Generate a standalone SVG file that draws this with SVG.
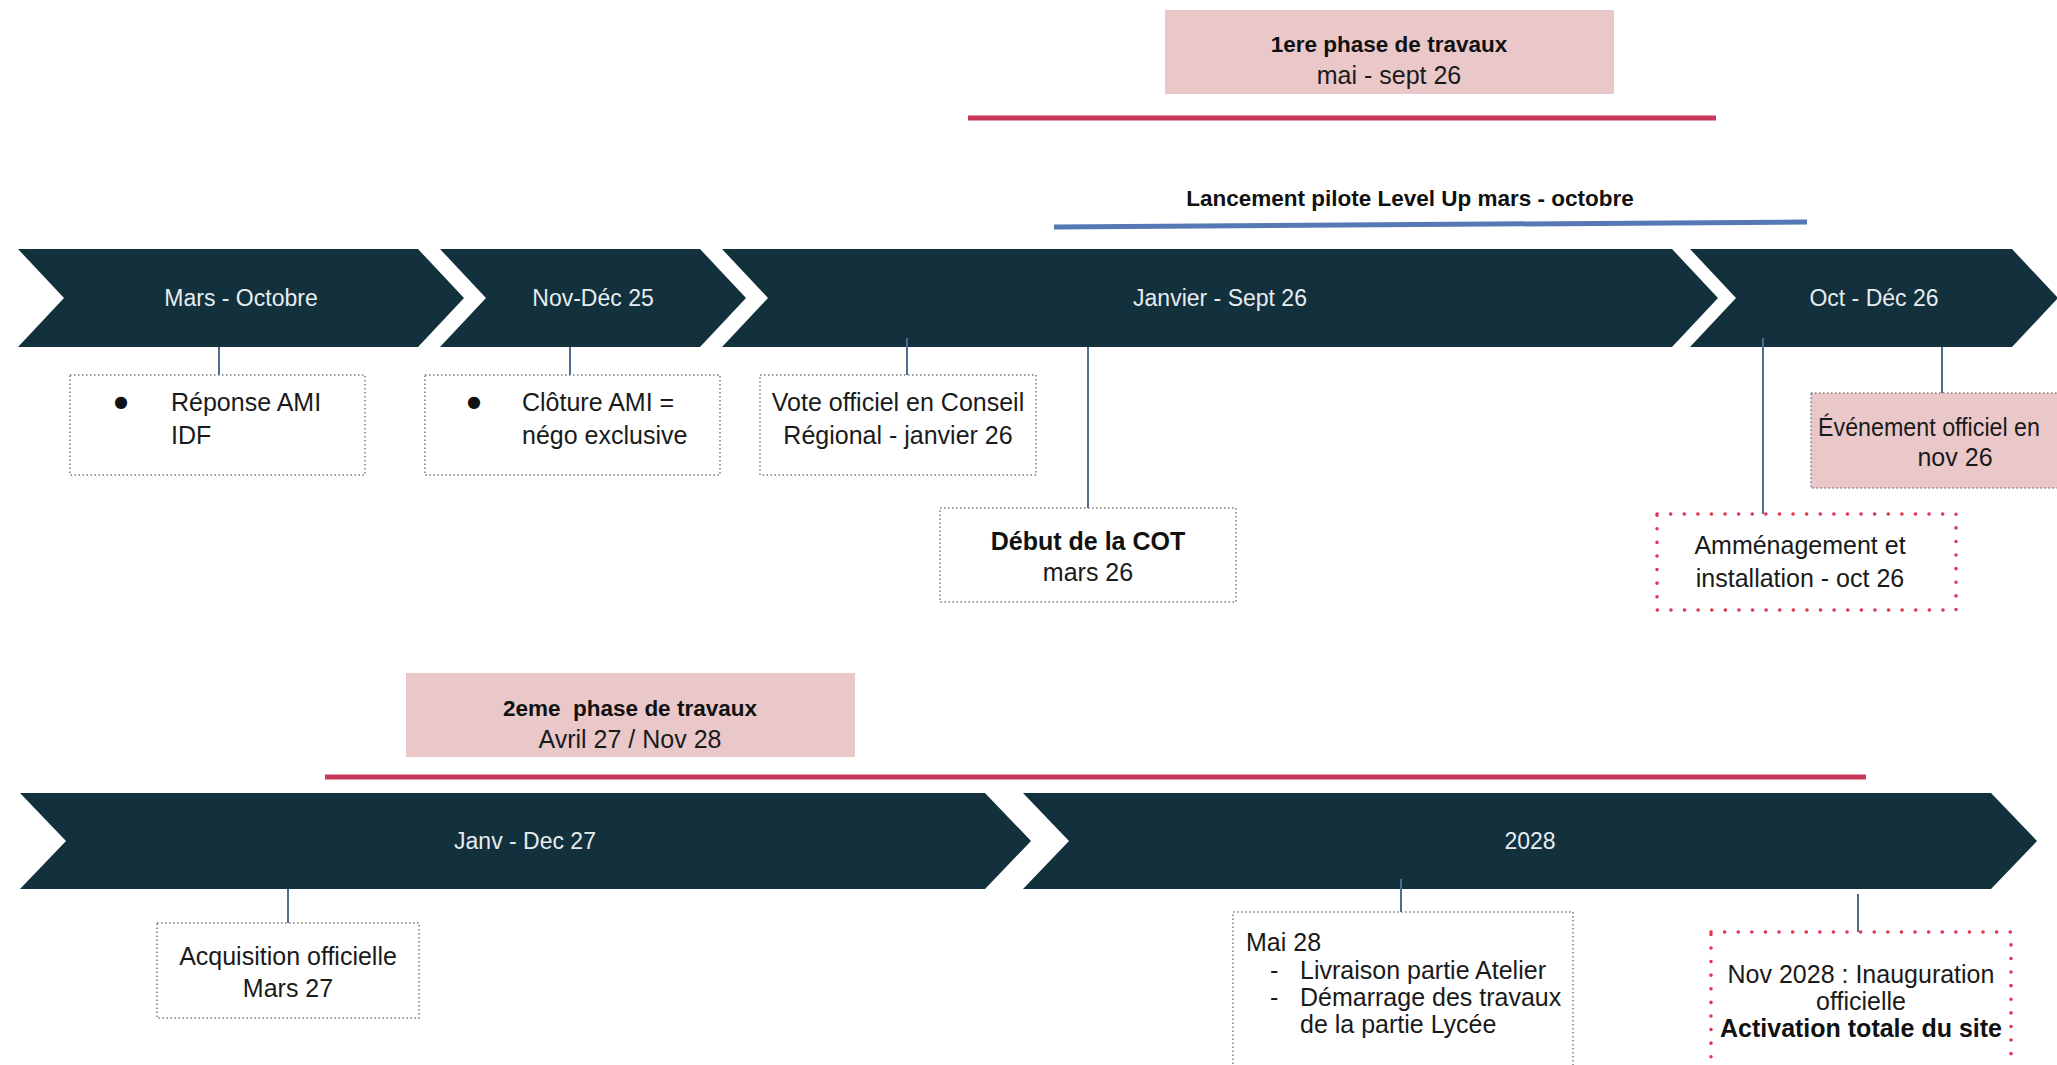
<svg xmlns="http://www.w3.org/2000/svg" width="2057" height="1065" viewBox="0 0 2057 1065">
<style>
  .chev { fill: #13303d; }
  .chevt { font-family: "Liberation Sans", Arial, sans-serif; font-size: 23px; fill: #e6edf0; text-anchor: middle; }
  .t { font-family: "Liberation Sans", Arial, sans-serif; font-size: 25px; fill: #1a1a1a; }
  .b { font-family: "Liberation Sans", Arial, sans-serif; font-size: 22.5px; font-weight: bold; fill: #111; }
  .bb { font-family: "Liberation Sans", Arial, sans-serif; font-size: 25px; font-weight: bold; fill: #111; }
  .bul { font-family: "DejaVu Sans", sans-serif; font-size: 16px; fill: #111; text-anchor: middle; }
  .c { text-anchor: middle; }
  .box { fill: #ffffff; stroke: #7a7a7a; stroke-width: 1.5; stroke-dasharray: 1.5 2.5; }
  .pinkbox { fill: #eac8ca; stroke: #7a7a7a; stroke-width: 1.5; stroke-dasharray: 1.5 2.5; }
  .redbox { fill: #ffffff; stroke: #e0344f; stroke-width: 3.5; stroke-dasharray: 0.1 13.5; stroke-linecap: round; }
  .pink { fill: #eac8ca; }
  .conn { stroke: #4f6d8f; stroke-width: 2; fill: none; }
  .red { stroke: #c8385a; stroke-width: 5; fill: none; }
  .blue { stroke: #5678b4; stroke-width: 5; fill: none; }
</style>
<rect width="2057" height="1065" fill="#ffffff"/>

<!-- phase bars -->
<g id="phase1">
  <rect class="pink" x="1165" y="10" width="449" height="84"/>
  <text class="b c" x="1389" y="52">1ere phase de travaux</text>
  <text class="t c" x="1389" y="84" font-size="24">mai - sept 26</text>
  <line class="red" x1="968" y1="118" x2="1716" y2="118"/>
</g>
<g id="pilote">
  <text class="b c" x="1410" y="206" font-size="21">Lancement pilote Level Up mars - octobre</text>
  <line class="blue" x1="1054" y1="227" x2="1807" y2="222"/>
</g>
<g id="phase2">
  <rect class="pink" x="406" y="673" width="449" height="84"/>
  <text class="b c" x="630" y="716" xml:space="preserve">2eme  phase de travaux</text>
  <text class="t c" x="630" y="748" font-size="23.5">Avril 27 / Nov 28</text>
  <line class="red" x1="325" y1="777" x2="1866" y2="777"/>
</g>

<!-- top chevrons -->
<g id="chev-mars-octobre">
  <polygon class="chev" points="18,249 418,249 464,298 418,347 18,347 64,298"/>
  <text class="chevt" x="241" y="306">Mars - Octobre</text>
</g>
<g id="chev-nov-dec-25">
  <polygon class="chev" points="440,249 700,249 746,298 700,347 440,347 486,298"/>
  <text class="chevt" x="593" y="306">Nov-Déc 25</text>
</g>
<g id="chev-janvier-sept-26">
  <polygon class="chev" points="722,249 1672,249 1718,298 1672,347 722,347 768,298"/>
  <text class="chevt" x="1220" y="306">Janvier - Sept 26</text>
</g>
<g id="chev-oct-dec-26">
  <polygon class="chev" points="1690,249 2012,249 2058,298 2012,347 1690,347 1736,298"/>
  <text class="chevt" x="1874" y="306">Oct - Déc 26</text>
</g>

<!-- bottom chevrons -->
<g id="chev-janv-dec-27">
  <polygon class="chev" points="20,793 985,793 1031,841 985,889 20,889 66,841"/>
  <text class="chevt" x="525" y="849">Janv - Dec 27</text>
</g>
<g id="chev-2028">
  <polygon class="chev" points="1023,793 1991,793 2037,841 1991,889 1023,889 1069,841"/>
  <text class="chevt" x="1530" y="849">2028</text>
</g>

<!-- connectors -->
<g id="connectors">
  <line class="conn" x1="219" y1="347" x2="219" y2="375"/>
  <line class="conn" x1="570" y1="347" x2="570" y2="375"/>
  <line class="conn" x1="907" y1="338" x2="907" y2="375"/>
  <line class="conn" x1="1088" y1="347" x2="1088" y2="508"/>
  <line class="conn" x1="1763" y1="338" x2="1763" y2="514"/>
  <line class="conn" x1="1942" y1="347" x2="1942" y2="393"/>
  <line class="conn" x1="288" y1="889" x2="288" y2="923"/>
  <line class="conn" x1="1401" y1="879" x2="1401" y2="912"/>
  <line class="conn" x1="1858" y1="894" x2="1858" y2="932"/>
</g>

<!-- top boxes -->
<g id="reponse-ami">
  <rect class="box" x="70" y="375" width="295" height="100"/>
  <text class="bul" x="121" y="407">●</text>
  <text class="t" x="171" y="411">Réponse AMI</text>
  <text class="t" x="171" y="444">IDF</text>
</g>
<g id="cloture-ami">
  <rect class="box" x="425" y="375" width="295" height="100"/>
  <text class="bul" x="474" y="407">●</text>
  <text class="t" x="522" y="411">Clôture AMI =</text>
  <text class="t" x="522" y="444">négo exclusive</text>
</g>
<g id="vote-officiel">
  <rect class="box" x="760" y="375" width="276" height="100"/>
  <text class="t c" x="898" y="411">Vote officiel en Conseil</text>
  <text class="t c" x="898" y="444">Régional - janvier 26</text>
</g>
<g id="debut-cot">
  <rect class="box" x="940" y="508" width="296" height="94"/>
  <text class="bb c" x="1088" y="550">Début de la COT</text>
  <text class="t c" x="1088" y="581">mars 26</text>
</g>
<g id="evenement-officiel">
  <rect class="pinkbox" x="1811" y="393" width="292" height="95"/>
  <text class="t" x="1818" y="436" font-size="22.5" textLength="222" lengthAdjust="spacingAndGlyphs">Événement officiel en</text>
  <text class="t c" x="1955" y="466" font-size="23.5">nov 26</text>
</g>
<g id="amenagement">
  <rect class="redbox" x="1657" y="514" width="299" height="96"/>
  <text class="t c" x="1800" y="554" font-size="24">Amménagement et</text>
  <text class="t c" x="1800" y="587" font-size="24">installation - oct 26</text>
</g>

<!-- bottom boxes -->
<g id="acquisition">
  <rect class="box" x="157" y="923" width="262" height="95"/>
  <text class="t c" x="288" y="965">Acquisition officielle</text>
  <text class="t c" x="288" y="997">Mars 27</text>
</g>
<g id="mai-28">
  <rect class="box" x="1233" y="912" width="340" height="170"/>
  <text class="t" x="1246" y="951">Mai 28</text>
  <text class="t" x="1270" y="979">-</text>
  <text class="t" x="1300" y="979">Livraison partie Atelier</text>
  <text class="t" x="1270" y="1006">-</text>
  <text class="t" x="1300" y="1006">Démarrage des travaux</text>
  <text class="t" x="1300" y="1033">de la partie Lycée</text>
</g>
<g id="nov-2028">
  <rect class="redbox" x="1711" y="932" width="300" height="150"/>
  <text class="t c" x="1861" y="983">Nov 2028 : Inauguration</text>
  <text class="t c" x="1861" y="1010">officielle</text>
  <text class="bb c" x="1861" y="1037" font-size="24.5">Activation totale du site</text>
</g>
</svg>
